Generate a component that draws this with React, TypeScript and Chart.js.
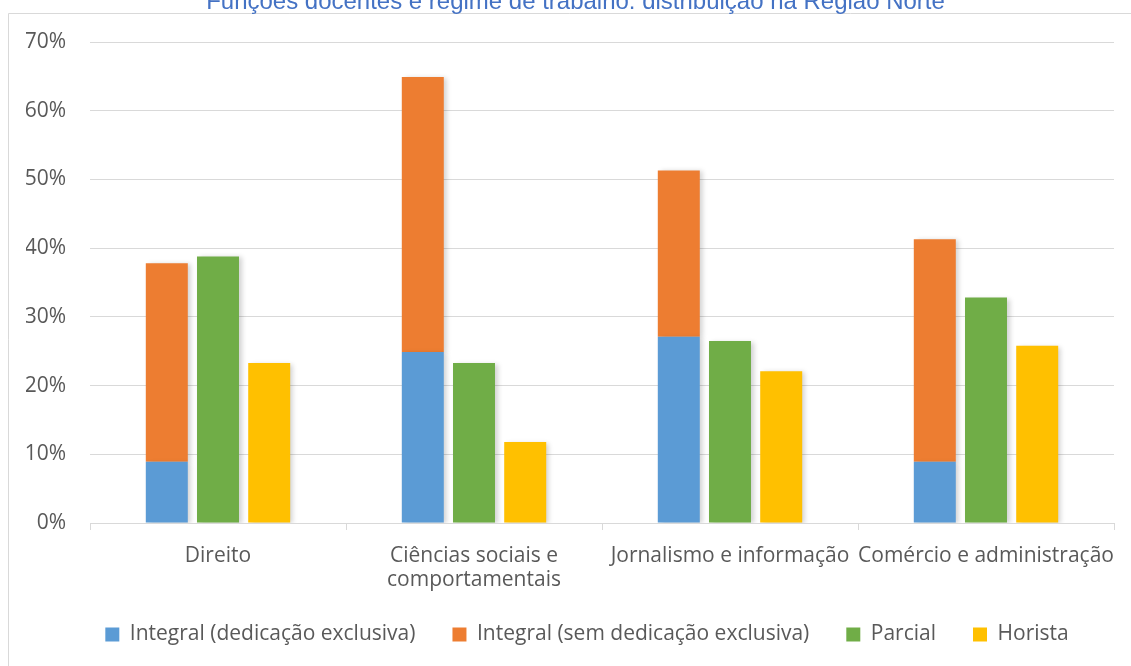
import React, { useEffect, useRef } from 'react';
import { Chart, registerables } from 'chart.js';

Chart.register(...registerables);

const TITLE = 'Funções docentes e regime de trabalho: distribuição na Região Norte';
const categories: (string | string[])[] = [
  'Direito',
  ['Ciências sociais e', 'comportamentais'],
  'Jornalismo e informação',
  'Comércio e administração',
];
const seriesNames = [
  'Integral (dedicação exclusiva)',
  'Integral (sem dedicação exclusiva)',
  'Parcial',
  'Horista',
];
const integralExclusiva = [8.9, 24.9, 27.1, 8.9];
const integralSemExclusiva = [28.9, 40.0, 24.2, 32.4];
const parcial = [38.8, 23.3, 26.5, 32.8];
const horista = [23.3, 11.8, 22.1, 25.8];
const yMin = 0;
const yMax = 70;
const yStep = 10;

const COLORS = ['#5B9BD5', '#ED7D31', '#70AD47', '#FFC000'];
const TEXT = '#595959';
const GRID = '#D9D9D9';
const FONT = '"Open Sans", "DejaVu Sans", sans-serif';

const framePlugin = {
  id: 'frameAndTitle',
  afterLayout(chart: any) {
    const lg = chart.legend;
    if (lg) {
      lg.top -= 8;
      lg.bottom -= 8;
      lg.left += 17;
      lg.right += 17;
    }
  },
  beforeDraw(chart: any) {
    const ctx = chart.ctx;
    ctx.save();
    ctx.fillStyle = '#FFFFFF';
    ctx.fillRect(0, 0, chart.width, chart.height);
    ctx.strokeStyle = GRID;
    ctx.lineWidth = 1;
    ctx.beginPath();
    ctx.moveTo(8.5, chart.height);
    ctx.lineTo(8.5, 13.5);
    ctx.lineTo(chart.width, 13.5);
    ctx.stroke();
    // title (partly cut off at the top, as in the reference)
    ctx.font = '22px "Liberation Sans", Arial, sans-serif';
    const w = ctx.measureText(TITLE).width;
    const size = 22 * 739 / w;
    ctx.font = `${size}px "Liberation Sans", Arial, sans-serif`;
    ctx.fillStyle = '#4472C4';
    ctx.textAlign = 'center';
    ctx.textBaseline = 'alphabetic';
    ctx.fillText(TITLE, 575.5, 8.5);
    ctx.restore();
  },
};

const shadowPlugin = {
  id: 'barShadow',
  beforeDatasetsDraw(chart: any) {
    const ctx = chart.ctx;
    ctx.save();
    ctx.shadowColor = 'rgba(0,0,0,0.18)';
    ctx.shadowBlur = 5;
    ctx.shadowOffsetX = 3;
    ctx.shadowOffsetY = 1;
  },
  afterDatasetsDraw(chart: any) {
    chart.ctx.restore();
  },
};

export default function App() {
  const ref = useRef<HTMLCanvasElement | null>(null);

  useEffect(() => {
    if (!ref.current) return;
    const values = [integralExclusiva, integralSemExclusiva, parcial, horista];
    const stacks = ['integral', 'integral', 'parcial', 'horista'];
    const chart = new Chart(ref.current, {
      type: 'bar',
      data: {
        labels: categories as any,
        datasets: values.map((v, i) => ({
          label: seriesNames[i],
          data: v,
          backgroundColor: COLORS[i],
          borderWidth: 0,
          stack: stacks[i],
          categoryPercentage: 0.6,
          barPercentage: 0.82,
        })),
      },
      options: {
        responsive: false,
        animation: false,
        layout: { padding: { left: 26, right: 17, top: 42, bottom: 3 } },
        scales: {
          x: {
            stacked: true,
            grid: {
              display: true,
              drawOnChartArea: false,
              drawTicks: true,
              tickLength: 7,
              color: GRID,
              offset: true,
            },
            border: { display: true, color: GRID },
            ticks: {
              color: TEXT,
              font: { family: FONT, size: 21, lineHeight: 1.15 },
              padding: 14,
              maxRotation: 0,
              autoSkip: false,
            },
            afterFit: (s: any) => {
              s.height = 72;
            },
          },
          y: {
            stacked: true,
            min: yMin,
            max: yMax,
            grid: { color: GRID, drawTicks: false },
            border: { display: false },
            ticks: {
              stepSize: yStep,
              color: TEXT,
              font: { family: FONT, size: 21 },
              padding: 24,
              callback: (v: any) => `${v}%`,
            },
            afterFit: (s: any) => {
              s.width = 64;
            },
          },
        },
        plugins: {
          legend: {
            position: 'bottom',
            labels: {
              boxWidth: 14,
              boxHeight: 14,
              padding: 37,
              color: TEXT,
              font: { family: FONT, size: 21 },
            },
          },
          title: { display: false },
          tooltip: { enabled: false },
        },
      },
      plugins: [framePlugin, shadowPlugin],
    });
    return () => chart.destroy();
  }, []);

  return (
    <div style={{ position: 'fixed', left: 0, top: 0, width: 1131, height: 666 }}>
      <canvas ref={ref} width={1131} height={666} />
    </div>
  );
}
